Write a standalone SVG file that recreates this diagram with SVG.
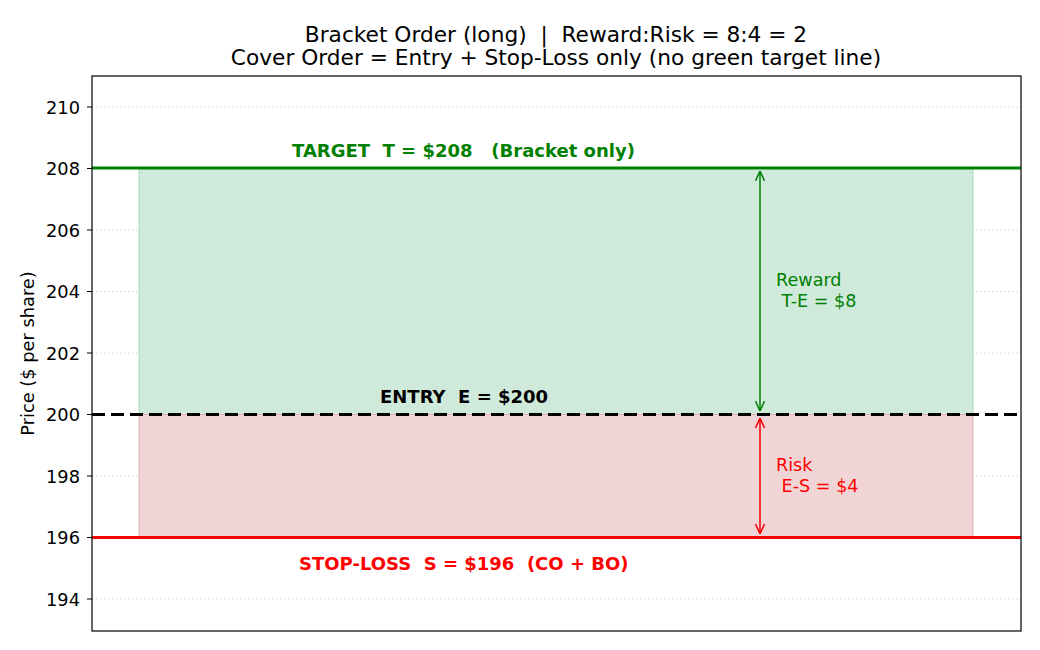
<svg xmlns="http://www.w3.org/2000/svg" width="1040" height="650" viewBox="0 0 1040 650" xml:space="preserve">
<style>
text{font-family:"DejaVu Sans","Liberation Sans",sans-serif;white-space:pre}
.tick{font-size:17.8px;text-anchor:end;fill:#000}
.grid{stroke:#cccccc;stroke-width:0.8;stroke-dasharray:1.5,2.5}
.tm{stroke:#000;stroke-width:1}
.lbl{font-size:18px;font-weight:bold}
.ann{font-size:17.6px}
.ttl{font-size:21.7px;text-anchor:middle}
</style>
<defs>
<marker id="ag" viewBox="0 0 10 10" refX="10" refY="5" markerWidth="10" markerHeight="10" markerUnits="userSpaceOnUse" orient="auto-start-reverse"><path d="M0,0.5 L10,5 L0,9.5" fill="none" stroke="#008000" stroke-width="1.5"/></marker>
<marker id="ar" viewBox="0 0 10 10" refX="10" refY="5" markerWidth="10" markerHeight="10" markerUnits="userSpaceOnUse" orient="auto-start-reverse"><path d="M0,0.5 L10,5 L0,9.5" fill="none" stroke="#ff0000" stroke-width="1.5"/></marker>
</defs>
<rect width="1040" height="650" fill="#fff"/>
<g id="title">
<text class="ttl" x="556" y="42">Bracket Order (long)  |  Reward:Risk = 8:4 = 2</text>
<text class="ttl" x="556" y="65">Cover Order = Entry + Stop-Loss only (no green target line)</text>
</g>
<g id="grid">
<line class="grid" x1="92" y1="107" x2="1021" y2="107"/>
<line class="grid" x1="92" y1="230" x2="1021" y2="230"/>
<line class="grid" x1="92" y1="291.5" x2="1021" y2="291.5"/>
<line class="grid" x1="92" y1="353" x2="1021" y2="353"/>
<line class="grid" x1="92" y1="476" x2="1021" y2="476"/>
<line class="grid" x1="92" y1="599" x2="1021" y2="599"/>
</g>
<g id="zones">
<rect id="reward-zone" x="139" y="168.5" width="834" height="246" fill="#cfeadb" stroke="#a8dcc0" stroke-width="1"/>
<rect id="risk-zone" x="139" y="414.5" width="834" height="123" fill="#f1d5d6" stroke="#e8b0b3" stroke-width="1"/>
</g>
<g id="levels">
<line id="target" x1="92" y1="168" x2="1021" y2="168" stroke="#008000" stroke-width="3"/>
<line id="stop" x1="92" y1="537.5" x2="1021" y2="537.5" stroke="#ff0000" stroke-width="3"/>
<line id="entry" x1="92" y1="414.5" x2="1021" y2="414.5" stroke="#000" stroke-width="3.2" stroke-dasharray="13,6"/>
</g>
<g id="connectors">
<line x1="760" y1="411" x2="760" y2="171" stroke="#008000" stroke-width="1.5" marker-start="url(#ag)" marker-end="url(#ag)"/>
<line x1="760" y1="418" x2="760" y2="534" stroke="#ff0000" stroke-width="1.5" marker-start="url(#ar)" marker-end="url(#ar)"/>
</g>
<g id="labels">
<text class="lbl" x="292" y="157" fill="#008000">TARGET  T = $208   (Bracket only)</text>
<text class="lbl" x="380" y="402.5" fill="#000">ENTRY  E = $200</text>
<text class="lbl" x="299" y="569.5" fill="#ff0000">STOP-LOSS  S = $196  (CO + BO)</text>
<text class="ann" x="776" y="286" fill="#008000">Reward</text>
<text class="ann" x="776" y="307" fill="#008000"> T-E = $8</text>
<text class="ann" x="776" y="471" fill="#ff0000">Risk</text>
<text class="ann" x="776" y="492" fill="#ff0000"> E-S = $4</text>
</g>
<g id="axes">
<rect x="92" y="76" width="929" height="555" fill="none" stroke="#000" stroke-width="1.2"/>
<line class="tm" x1="87" y1="107" x2="92" y2="107"/>
<line class="tm" x1="87" y1="168.5" x2="92" y2="168.5"/>
<line class="tm" x1="87" y1="230" x2="92" y2="230"/>
<line class="tm" x1="87" y1="291.5" x2="92" y2="291.5"/>
<line class="tm" x1="87" y1="353" x2="92" y2="353"/>
<line class="tm" x1="87" y1="414.5" x2="92" y2="414.5"/>
<line class="tm" x1="87" y1="476" x2="92" y2="476"/>
<line class="tm" x1="87" y1="537.5" x2="92" y2="537.5"/>
<line class="tm" x1="87" y1="599" x2="92" y2="599"/>
<text class="tick" x="80" y="113.5">210</text>
<text class="tick" x="80" y="175">208</text>
<text class="tick" x="80" y="236.5">206</text>
<text class="tick" x="80" y="298">204</text>
<text class="tick" x="80" y="359.5">202</text>
<text class="tick" x="80" y="421">200</text>
<text class="tick" x="80" y="482.5">198</text>
<text class="tick" x="80" y="544">196</text>
<text class="tick" x="80" y="605.5">194</text>
<text x="34" y="353.5" font-size="17.8" text-anchor="middle" transform="rotate(-90 34 353.5)">Price ($ per share)</text>
</g>
</svg>
